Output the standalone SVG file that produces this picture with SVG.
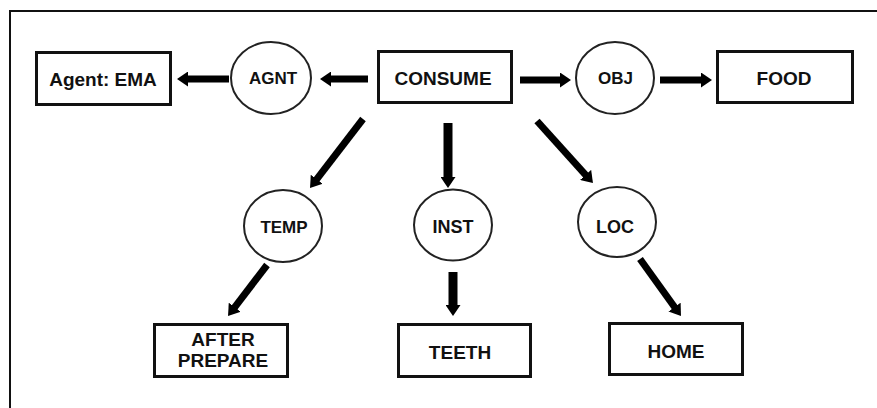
<svg xmlns="http://www.w3.org/2000/svg" width="877" height="408" viewBox="0 0 877 408">
  <style>
    .box { fill: #fff; stroke: #111; stroke-width: 3; }
    .rel { fill: #fff; stroke: #222; stroke-width: 2; }
    .lbl { font-family: "Liberation Sans", Arial, sans-serif; font-weight: bold; fill: #111; text-anchor: middle; }
    .big { font-size: 19px; }
    .mid { font-size: 18px; }
    .sm { font-size: 17px; }
    .arr { stroke: #000; stroke-width: 7; fill: none; marker-end: url(#head); }
    .arr.v { stroke-width: 9; }
  </style>
  <defs>
    <marker id="head" markerUnits="userSpaceOnUse" viewBox="0 0 11 15" markerWidth="11" markerHeight="15" refX="3" refY="7.5" orient="auto">
      <path d="M0,0 L11,7.5 L0,15 Z" fill="#000"/>
    </marker>
  </defs>

  <rect width="877" height="408" fill="#fff"/>
  <!-- frame: top and left edges only -->
  <path d="M877,11 H10 V408" fill="none" stroke="#111" stroke-width="2"/>

  <g id="connectors">
    <line class="arr" x1="368" y1="79" x2="328" y2="79"/>
    <line class="arr" x1="229" y1="79" x2="185" y2="79"/>
    <line class="arr" x1="520" y1="80" x2="563" y2="80"/>
    <line class="arr" x1="660" y1="80" x2="704" y2="80"/>
    <line class="arr" x1="363" y1="119" x2="314.9" y2="181.7"/>
    <line class="arr v" x1="448" y1="123" x2="448" y2="180"/>
    <line class="arr" x1="537" y1="121" x2="587.6" y2="177.1"/>
    <line class="arr" x1="267" y1="265" x2="232.9" y2="309.6"/>
    <line class="arr v" x1="453" y1="272" x2="453" y2="308"/>
    <line class="arr" x1="640" y1="259" x2="676.3" y2="309.5"/>
  </g>

  <g id="agent">
    <rect class="box" x="36.5" y="52.5" width="134" height="52"/>
    <text class="lbl big" x="103" y="86">Agent: EMA</text>
  </g>
  <g id="agnt">
    <ellipse class="rel" cx="271" cy="78" rx="40" ry="36"/>
    <text class="lbl sm" x="273" y="84">AGNT</text>
  </g>
  <g id="consume">
    <rect class="box" x="378.5" y="51.5" width="133" height="51"/>
    <text class="lbl big" x="443" y="85">CONSUME</text>
  </g>
  <g id="obj">
    <ellipse class="rel" cx="615" cy="78" rx="39" ry="36"/>
    <text class="lbl sm" x="615.5" y="84">OBJ</text>
  </g>
  <g id="food">
    <rect class="box" x="717.5" y="51.5" width="135" height="51"/>
    <text class="lbl big" x="784" y="85">FOOD</text>
  </g>
  <g id="temp">
    <ellipse class="rel" cx="283" cy="226" rx="39" ry="36"/>
    <text class="lbl sm" x="284" y="233">TEMP</text>
  </g>
  <g id="inst">
    <ellipse class="rel" cx="453" cy="225" rx="39" ry="35.5"/>
    <text class="lbl mid" x="453" y="233">INST</text>
  </g>
  <g id="loc">
    <ellipse class="rel" cx="617" cy="222" rx="39" ry="35"/>
    <text class="lbl mid" x="615" y="233">LOC</text>
  </g>
  <g id="after-prepare">
    <rect class="box" x="154.5" y="324.5" width="133" height="52"/>
    <text class="lbl big" x="223" y="346">AFTER</text>
    <text class="lbl big" x="223" y="367">PREPARE</text>
  </g>
  <g id="teeth">
    <rect class="box" x="398.5" y="324.5" width="132" height="52"/>
    <text class="lbl big" x="460" y="359">TEETH</text>
  </g>
  <g id="home">
    <rect class="box" x="609.5" y="323.5" width="133" height="51"/>
    <text class="lbl big" x="676" y="358">HOME</text>
  </g>
</svg>
